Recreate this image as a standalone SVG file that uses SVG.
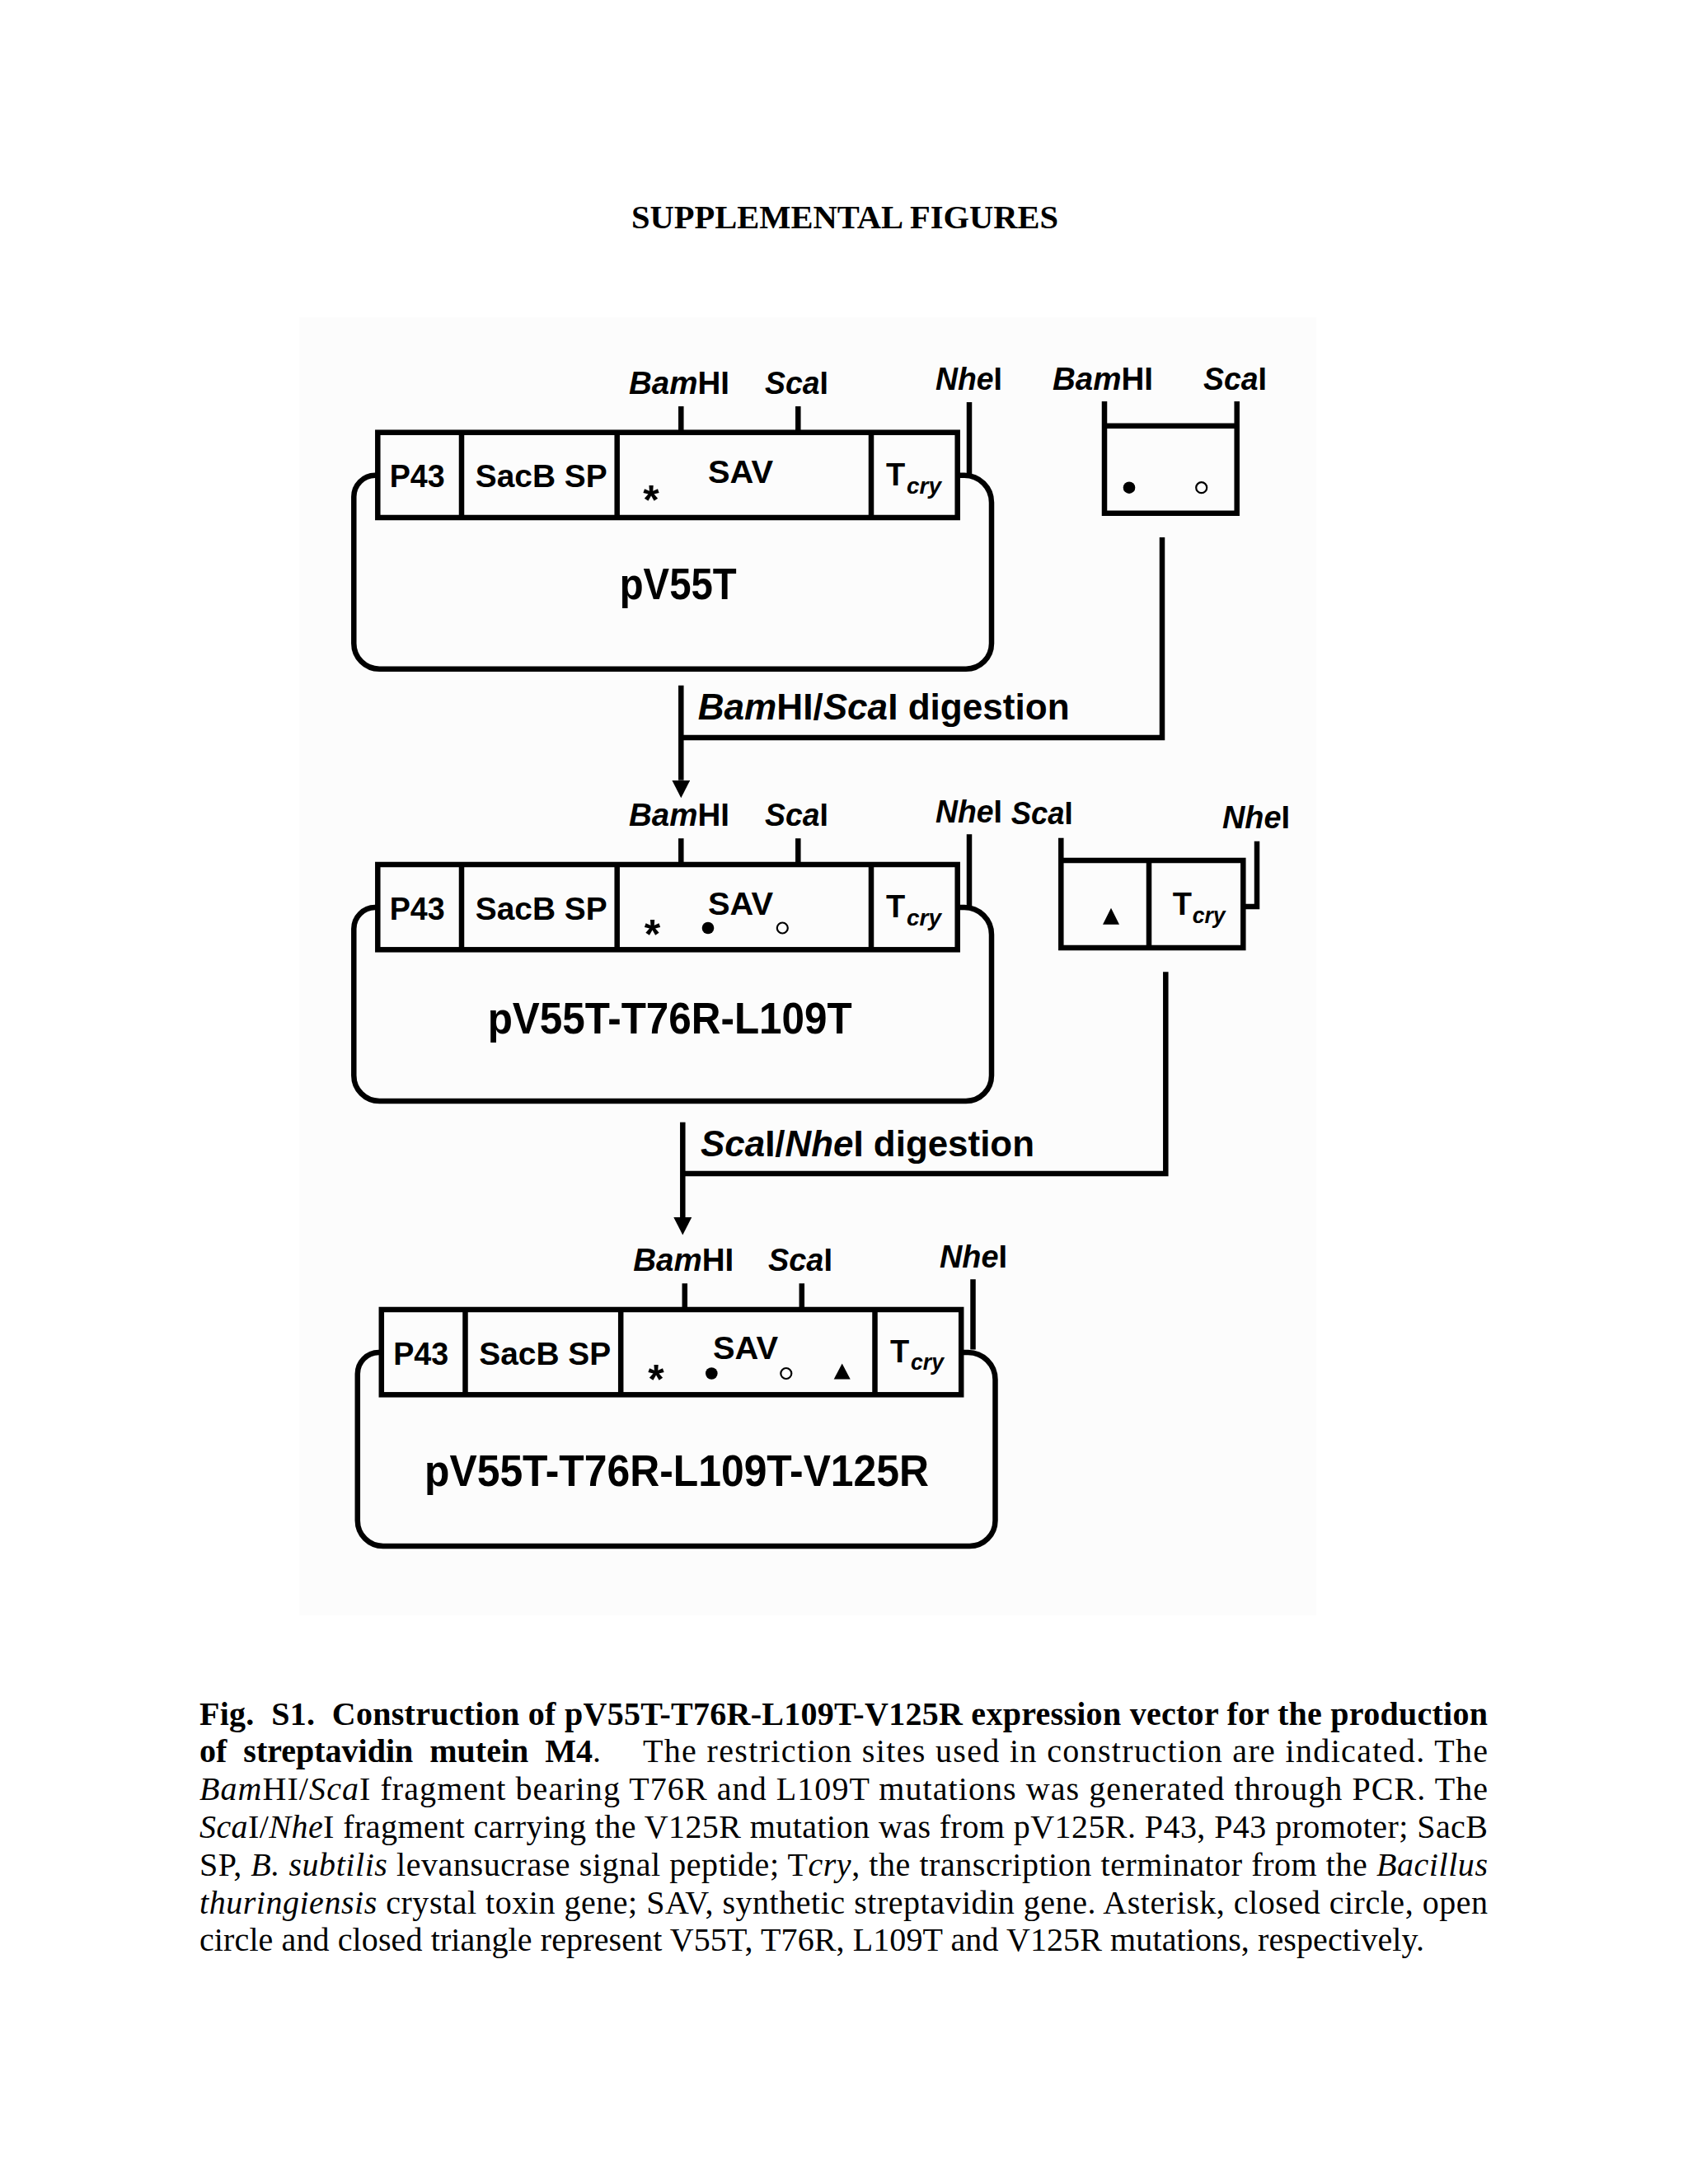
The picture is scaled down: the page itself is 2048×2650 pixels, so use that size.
<svg xmlns="http://www.w3.org/2000/svg" width="2048" height="2650" viewBox="0 0 2048 2650">
<style>
.ln{stroke:#000;stroke-width:6.5;fill:none;stroke-linejoin:miter}
.lab{font-family:"Liberation Sans",Arial,sans-serif;font-weight:bold;font-size:38px;fill:#000}
.it{font-style:italic}
.sub{font-family:"Liberation Sans",Arial,sans-serif;font-weight:bold;font-style:italic;font-size:28px;fill:#000}
.name{font-family:"Liberation Sans",Arial,sans-serif;font-weight:bold;font-size:54px;fill:#000}
.dig{font-family:"Liberation Sans",Arial,sans-serif;font-weight:bold;font-size:44px;fill:#000}
.ast{font-family:"Liberation Sans",Arial,sans-serif;font-weight:bold;font-size:50px;fill:#000}
.cap{font-family:"Liberation Serif","Times New Roman",serif;font-size:40px;fill:#000}
.b{font-weight:bold}
.dot{fill:#000}
.odot{fill:#fff;stroke:#000;stroke-width:2.2}
</style>
<defs>
<marker id="arr" markerUnits="userSpaceOnUse" markerWidth="22" markerHeight="22" viewBox="0 0 22 22" refX="0" refY="11" orient="auto"><path d="M0,0 L21.5,11 L0,22 Z" fill="#000"/></marker>
</defs>
<rect width="2048" height="2650" fill="#fff"/>
<rect x="363" y="385" width="1234" height="1575" fill="#fcfcfc"/>

<text id="title" x="766" y="277.3" textLength="518" lengthAdjust="spacingAndGlyphs" class="cap b">SUPPLEMENTAL FIGURES</text>

<g id="plasmid-pV55T" transform="translate(0,524.7)">
<path class="ln" d="M458.3 52 H455 A26 26 0 0 0 429.3 78 V256 A31 31 0 0 0 460.3 287 H1172 A31 31 0 0 0 1203 256 V85 A33 33 0 0 0 1170 52 H1161.7"/>
<rect class="ln" x="458.3" y="0" width="703.4" height="103.3" fill="#fff"/>
<path class="ln" d="M560 0 V103.3 M748.7 0 V103.3 M1057 0 V103.3 M826.3 -31.7 V0 M968.3 -31.7 V0 M1176 -36.7 V50.3"/>
<text class="lab" x="472.7" y="66.5" textLength="67" lengthAdjust="spacingAndGlyphs">P43</text>
<text class="lab" x="576.7" y="66.5" textLength="160" lengthAdjust="spacingAndGlyphs">SacB SP</text>
<text class="lab" x="859" y="61" textLength="79" lengthAdjust="spacingAndGlyphs">SAV</text>
<text class="lab" x="1075" y="64">T</text>
<text class="sub" x="1100" y="74" textLength="42" lengthAdjust="spacingAndGlyphs">cry</text>
<text class="ast" x="790" y="99.5" text-anchor="middle">*</text>
<text class="lab" x="763" y="-46.7" textLength="122" lengthAdjust="spacingAndGlyphs"><tspan class="it">Bam</tspan>HI</text>
<text class="lab" x="928" y="-46.7" textLength="77" lengthAdjust="spacingAndGlyphs"><tspan class="it">Sca</tspan>I</text>
<text class="lab" x="1135" y="-51.5" textLength="81" lengthAdjust="spacingAndGlyphs"><tspan class="it">Nhe</tspan>I</text>
<text class="name" x="751.7" y="202.5" font-size="50" textLength="142" lengthAdjust="spacingAndGlyphs">pV55T</text>
</g>

<g id="fragment-BamHI-ScaI">
<path class="ln" d="M1340 487 V622.7 H1500.7 V487 M1340 516.7 H1500.7"/>
<circle class="dot" cx="1370" cy="591.7" r="7.3"/>
<circle class="odot" cx="1457.7" cy="591.7" r="6.5"/>
<text class="lab" x="1277" y="473" textLength="122" lengthAdjust="spacingAndGlyphs"><tspan class="it">Bam</tspan>HI</text>
<text class="lab" x="1460" y="473" textLength="77" lengthAdjust="spacingAndGlyphs"><tspan class="it">Sca</tspan>I</text>
</g>

<g id="plasmid-pV55T-T76R-L109T" transform="translate(0,1049)">
<path class="ln" d="M458.3 52 H455 A26 26 0 0 0 429.3 78 V256 A31 31 0 0 0 460.3 287 H1172 A31 31 0 0 0 1203 256 V85 A33 33 0 0 0 1170 52 H1161.7"/>
<rect class="ln" x="458.3" y="0" width="703.4" height="103.3" fill="#fff"/>
<path class="ln" d="M560 0 V103.3 M748.7 0 V103.3 M1057 0 V103.3 M826.3 -31.7 V0 M968.3 -31.7 V0 M1176 -36.7 V50.3"/>
<text class="lab" x="472.7" y="66.5" textLength="67" lengthAdjust="spacingAndGlyphs">P43</text>
<text class="lab" x="576.7" y="66.5" textLength="160" lengthAdjust="spacingAndGlyphs">SacB SP</text>
<text class="lab" x="859" y="61" textLength="79" lengthAdjust="spacingAndGlyphs">SAV</text>
<text class="lab" x="1075" y="64">T</text>
<text class="sub" x="1100" y="74" textLength="42" lengthAdjust="spacingAndGlyphs">cry</text>
<text class="ast" x="791.5" y="101.5" text-anchor="middle">*</text>
<circle class="dot" cx="859" cy="77" r="7.3"/>
<circle class="odot" cx="949.3" cy="77" r="6.5"/>
<text class="lab" x="763" y="-47.3" textLength="122" lengthAdjust="spacingAndGlyphs"><tspan class="it">Bam</tspan>HI</text>
<text class="lab" x="928" y="-47.3" textLength="77" lengthAdjust="spacingAndGlyphs"><tspan class="it">Sca</tspan>I</text>
<text class="lab" x="1135" y="-51" textLength="81" lengthAdjust="spacingAndGlyphs"><tspan class="it">Nhe</tspan>I</text>
<text class="name" x="591.7" y="205" textLength="442" lengthAdjust="spacingAndGlyphs">pV55T-T76R-L109T</text>
</g>

<g id="fragment-ScaI-NheI">
<path class="ln" d="M1287.3 1016.7 V1150 H1508.3 V1044 H1287.3 M1394 1044 V1150 M1508.3 1100 H1525 V1020.7"/>
<polygon points="1338,1121.7 1358,1121.7 1348,1101.7" fill="#000"/>
<text class="lab" x="1422.7" y="1110">T</text>
<text class="sub" x="1446.7" y="1120" textLength="40" lengthAdjust="spacingAndGlyphs">cry</text>
<text class="lab" x="1226.7" y="1000" textLength="75" lengthAdjust="spacingAndGlyphs"><tspan class="it">Sca</tspan>I</text>
<text class="lab" x="1483" y="1005" textLength="82" lengthAdjust="spacingAndGlyphs"><tspan class="it">Nhe</tspan>I</text>
</g>

<g id="plasmid-pV55T-T76R-L109T-V125R" transform="translate(4.5,1589)">
<path class="ln" d="M458.3 52 H455 A26 26 0 0 0 429.3 78 V256 A31 31 0 0 0 460.3 287 H1172 A31 31 0 0 0 1203 256 V85 A33 33 0 0 0 1170 52 H1161.7"/>
<rect class="ln" x="458.3" y="0" width="703.4" height="103.3" fill="#fff"/>
<path class="ln" d="M560 0 V103.3 M748.7 0 V103.3 M1057 0 V103.3 M826.3 -31.7 V0 M968.3 -31.7 V0 M1176 -36.7 V48.5"/>
<text class="lab" x="472.7" y="66.5" textLength="67" lengthAdjust="spacingAndGlyphs">P43</text>
<text class="lab" x="576.7" y="66.5" textLength="160" lengthAdjust="spacingAndGlyphs">SacB SP</text>
<text class="lab" x="860.5" y="60" textLength="79" lengthAdjust="spacingAndGlyphs">SAV</text>
<text class="lab" x="1075.5" y="64">T</text>
<text class="sub" x="1100.5" y="73" textLength="40" lengthAdjust="spacingAndGlyphs">cry</text>
<text class="ast" x="791.5" y="101.8" text-anchor="middle">*</text>
<circle class="dot" cx="858.8" cy="77.5" r="7.3"/>
<circle class="odot" cx="949.3" cy="77.5" r="6.5"/>
<polygon points="1007.2,84.5 1027.2,84.5 1017.2,65.5" fill="#000"/>
<text class="lab" x="763.8" y="-47" textLength="122" lengthAdjust="spacingAndGlyphs"><tspan class="it">Bam</tspan>HI</text>
<text class="lab" x="927.5" y="-47" textLength="78" lengthAdjust="spacingAndGlyphs"><tspan class="it">Sca</tspan>I</text>
<text class="lab" x="1135.5" y="-51" textLength="82" lengthAdjust="spacingAndGlyphs"><tspan class="it">Nhe</tspan>I</text>
<text class="name" x="510.5" y="214.3" textLength="612" lengthAdjust="spacingAndGlyphs">pV55T-T76R-L109T-V125R</text>
</g>

<g id="connectors">
<path class="ln" d="M1410 652 V895 H826.3"/>
<path class="ln" d="M826.3 831.7 V946.7" marker-end="url(#arr)"/>
<text class="dig" x="846.7" y="873.3" textLength="451" lengthAdjust="spacingAndGlyphs"><tspan class="it">Bam</tspan>HI/<tspan class="it">Sca</tspan>I digestion</text>
<path class="ln" d="M1414.3 1179.3 V1424 H828.3"/>
<path class="ln" d="M828.3 1361.7 V1477" marker-end="url(#arr)"/>
<text class="dig" x="850" y="1403.3" textLength="405" lengthAdjust="spacingAndGlyphs"><tspan class="it">Sca</tspan>I/<tspan class="it">Nhe</tspan>I digestion</text>
</g>

<g id="caption">
<text class="cap b" x="242" y="2092.5" textLength="1563" lengthAdjust="spacing" xml:space="preserve">Fig.  S1.  Construction of pV55T-T76R-L109T-V125R expression vector for the production</text>
<text class="cap" x="242" y="2138.3" textLength="487" lengthAdjust="spacing" xml:space="preserve"><tspan class="b">of  streptavidin  mutein  M4</tspan>.</text>
<text class="cap" x="780" y="2138.3" textLength="1025" lengthAdjust="spacing">The restriction sites used in construction are indicated. The</text>
<text class="cap" x="242" y="2184.1" textLength="1563" lengthAdjust="spacing"><tspan class="it">Bam</tspan>HI/<tspan class="it">Sca</tspan>I fragment bearing T76R and L109T mutations was generated through PCR. The</text>
<text class="cap" x="242" y="2229.9" textLength="1563" lengthAdjust="spacing"><tspan class="it">Sca</tspan>I/<tspan class="it">Nhe</tspan>I fragment carrying the V125R mutation was from pV125R. P43, P43 promoter; SacB</text>
<text class="cap" x="242" y="2275.7" textLength="1563" lengthAdjust="spacing">SP, <tspan class="it">B. subtilis</tspan> levansucrase signal peptide; T<tspan class="it">cry</tspan>, the transcription terminator from the <tspan class="it">Bacillus</tspan></text>
<text class="cap" x="242" y="2321.5" textLength="1563" lengthAdjust="spacing"><tspan class="it">thuringiensis</tspan> crystal toxin gene; SAV, synthetic streptavidin gene. Asterisk, closed circle, open</text>
<text class="cap" x="242" y="2367.3" textLength="1486" lengthAdjust="spacing">circle and closed triangle represent V55T, T76R, L109T and V125R mutations, respectively.</text>
</g>
</svg>
